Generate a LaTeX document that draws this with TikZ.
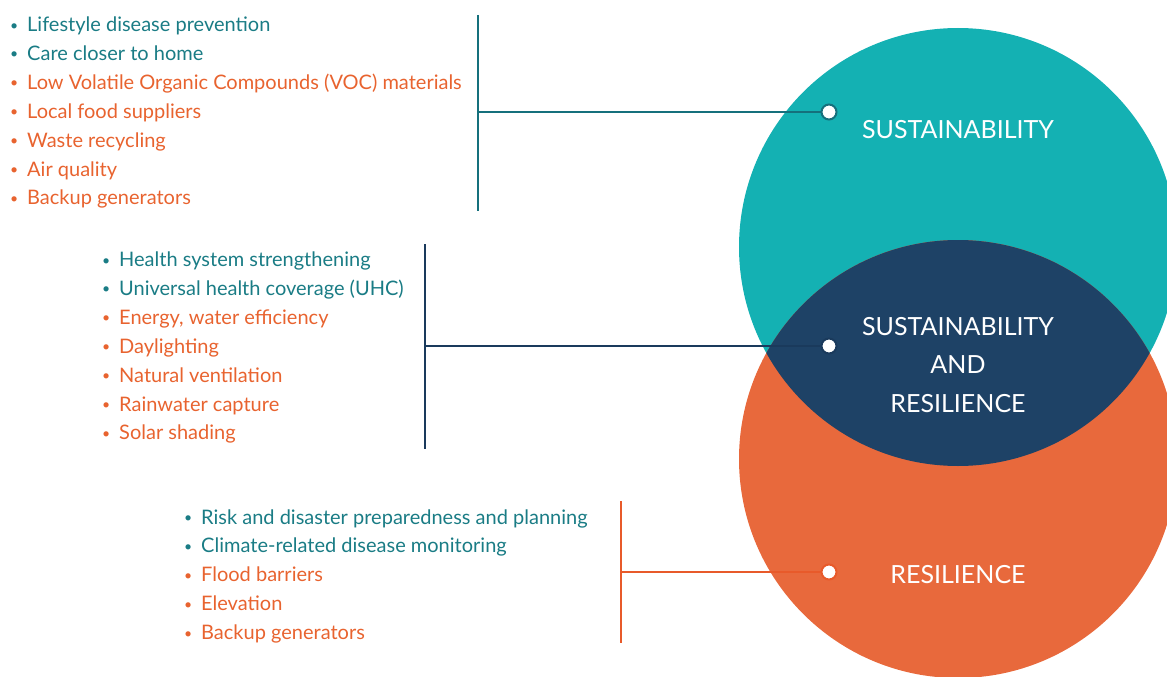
\documentclass[tikz,border=0pt]{standalone}
\usepackage{fontspec}
\setsansfont{Lato}
\usepackage{tikz}
\tikzset{every picture/.style={/utils/exec={\sffamily}}}

\definecolor{circteal}{HTML}{14B1B3}
\definecolor{circnavy}{HTML}{1E4266}
\definecolor{circorange}{HTML}{E8693C}
\definecolor{txtteal}{HTML}{1A7C85}
\definecolor{txtorange}{HTML}{E8632F}
\definecolor{barteal}{HTML}{15707C}
\definecolor{barnavy}{HTML}{1A3A5C}
\definecolor{barorange}{HTML}{E85A2A}

\newcommand{\itembullet}{\llap{\raisebox{1.5pt}{\fontsize{14}{14}\selectfont\textbullet}\hspace{9pt}}}

\tikzset{
  item/.style={anchor=base west, inner sep=0pt, text=#1, font=\fontsize{20}{22}\selectfont},
  ringlabel/.style={anchor=base, inner sep=0pt, text=white, font=\fontsize{25}{30}\selectfont},
  marker/.style={circle, fill=white, draw=#1, line width=2pt, minimum size=15pt, inner sep=0pt},
  bar/.style={draw=#1, line width=2.8pt}
}

\begin{document}
\begin{tikzpicture}[x=1pt, y=-1pt]

\useasboundingbox (0,0) rectangle (1167,677);

%Venn circles
\begin{scope}
\clip (0,0) rectangle (1167,677);
\fill[circteal] (958,247) circle[radius=219pt];
\fill[circorange] (958,459) circle[radius=219pt];
\begin{scope}
\clip (958,247) circle[radius=219pt];
\fill[circnavy] (958,459) circle[radius=219pt];
\end{scope}
\end{scope}

%Circle labels
\node[ringlabel] (lsust) at (958,138) {SUSTAINABILITY};
\node[ringlabel] (lboth1) at (958,335) {SUSTAINABILITY};
\node[ringlabel] (lboth2) at (958,373) {AND};
\node[ringlabel] (lboth3) at (958,412) {RESILIENCE};
\node[ringlabel] (lres) at (958,583) {RESILIENCE};

%Sustainability list
\foreach \txt/\col [count=\i from 0] in {
  {Lifestyle disease prevention}/txtteal,
  {Care closer to home}/txtteal,
  {Low Volatile Organic Compounds (VOC) materials}/txtorange,
  {Local food suppliers}/txtorange,
  {Waste recycling}/txtorange,
  {Air quality}/txtorange,
  {Backup generators}/txtorange}
  \node[item=\col] (s\i) at (27,{31.5+28.9*\i}) {\itembullet\txt};

%Both list
\foreach \txt/\col [count=\i from 0] in {
  {Health system strengthening}/txtteal,
  {Universal health coverage (UHC)}/txtteal,
  {Energy, water efficiency}/txtorange,
  {Daylighting}/txtorange,
  {Natural ventilation}/txtorange,
  {Rainwater capture}/txtorange,
  {Solar shading}/txtorange}
  \node[item=\col] (b\i) at (119,{266.5+28.9*\i}) {\itembullet\txt};

%Resilience list
\foreach \txt/\col [count=\i from 0] in {
  {Risk and disaster preparedness and planning}/txtteal,
  {Climate-related disease monitoring}/txtteal,
  {Flood barriers}/txtorange,
  {Elevation}/txtorange,
  {Backup generators}/txtorange}
  \node[item=\col] (r\i) at (201,{524+28.9*\i}) {\itembullet\txt};

%Brackets
\coordinate (stop) at (478,15);
\coordinate (sbot) at (478,211);
\coordinate (sjoin) at (478,112);
\coordinate (btop) at (425,244);
\coordinate (bbot) at (425,449);
\coordinate (bjoin) at (425,346);
\coordinate (rtop) at (621,501);
\coordinate (rbot) at (621,643);
\coordinate (rjoin) at (621,572);

\node[marker=barteal] (sdot) at (829,112) {};
\node[marker=barnavy] (bdot) at (829,346) {};
\node[marker=barorange] (rdot) at (829,572) {};

\draw[bar=barteal] (stop) -- (sbot);
\draw[bar=barteal] (sjoin) -- (sdot);
\draw[bar=barnavy] (btop) -- (bbot);
\draw[bar=barnavy] (bjoin) -- (bdot);
\draw[bar=barorange] (rtop) -- (rbot);
\draw[bar=barorange] (rjoin) -- (rdot);

\end{tikzpicture}
\end{document}
